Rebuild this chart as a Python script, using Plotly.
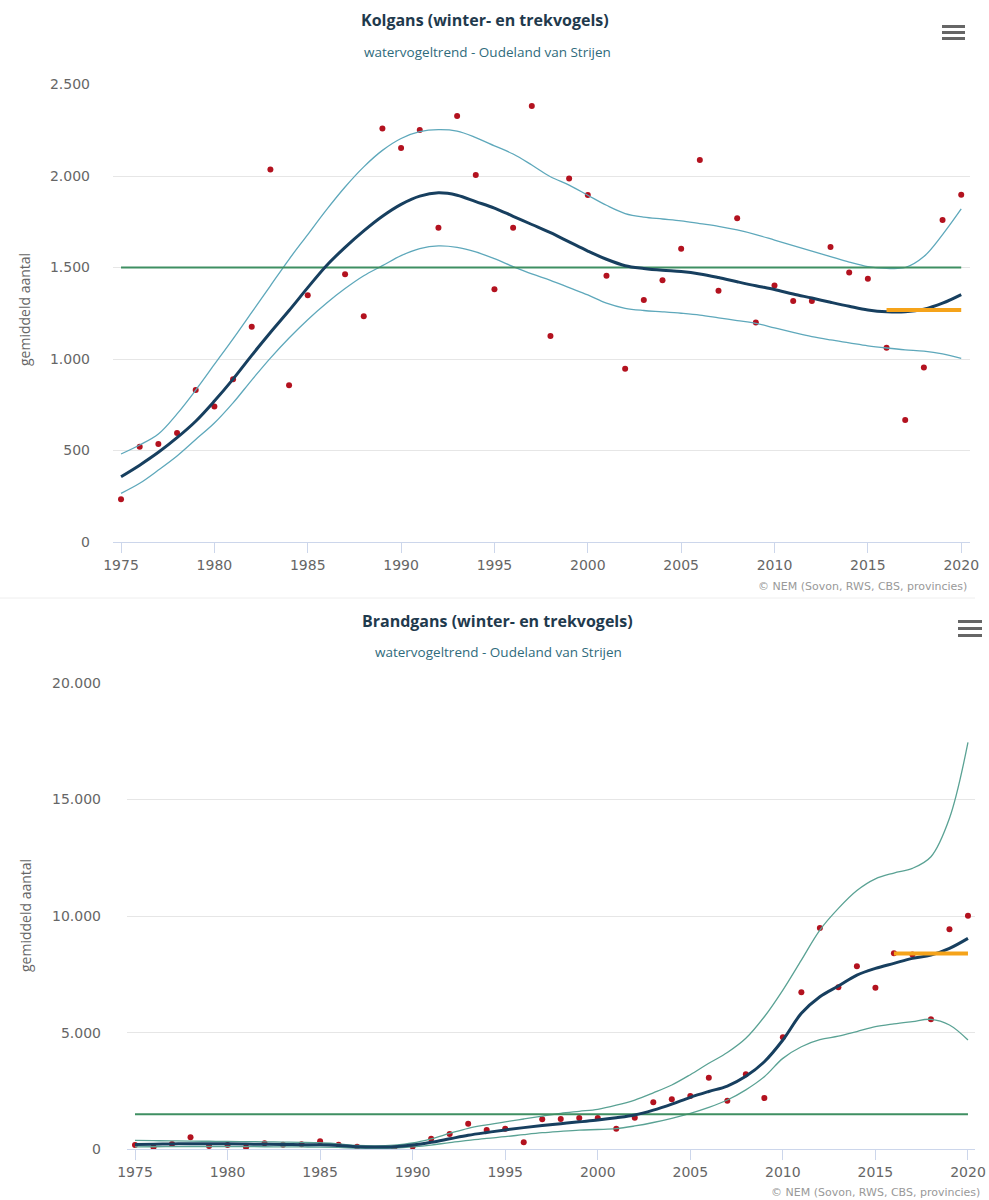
import plotly.graph_objects as go

W, H = 989, 1200

years = list(range(1975, 2021))

# ---------------- Kolgans ----------------
kol_counts = [233, 521, 535, 596, 830, 741, 890, 1176, 2036, 856,
              1348, None, 1463, 1233, 2260, 2153, 2251, 1717, 2328, 2005,
              1381, 1717, 2382, 1126, 1987, 1896, 1455, 947, 1322, 1430,
              1603, 2087, 1373, 1769, 1200, 1401, 1317, 1317, 1612, 1472,
              1439, 1062, 667, 954, 1759, 1898]
kol_trend = [357, 420, 490, 570, 660, 770, 890, 1020, 1145, 1265,
             1390, 1510, 1610, 1700, 1780, 1845, 1890, 1908, 1895, 1860,
             1825, 1780, 1735, 1690, 1640, 1590, 1545, 1510, 1495, 1485,
             1478, 1465, 1445, 1422, 1400, 1380, 1355, 1333, 1310, 1288,
             1268, 1258, 1258, 1272, 1305, 1352]
kol_upper = [481, 530, 590, 700, 830, 970, 1110, 1255, 1400, 1545,
             1680, 1815, 1940, 2050, 2140, 2205, 2242, 2253, 2245, 2210,
             2165, 2120, 2060, 1996, 1950, 1895, 1840, 1795, 1775, 1765,
             1755, 1740, 1725, 1705, 1680, 1650, 1620, 1590, 1560, 1530,
             1505, 1495, 1500, 1560, 1680, 1820]
kol_lower = [266, 321, 393, 470, 560, 650, 760, 885, 1005, 1115,
             1215, 1305, 1385, 1455, 1510, 1565, 1603, 1618, 1610, 1585,
             1548, 1505, 1465, 1430, 1390, 1350, 1305, 1277, 1265, 1258,
             1250, 1240, 1225, 1210, 1195, 1170, 1145, 1122, 1104, 1088,
             1072, 1060, 1050, 1043, 1028, 1004]
kol_ref_years = [1975, 2020]
kol_ref = [1500, 1500]
kol_recent_years = [2016, 2020]
kol_recent = [1268, 1268]

# ---------------- Brandgans ----------------
bra_counts = [184, 86, 230, 514, 141, 184, 86, 257, 200, 214,
              343, 190, 111, 15, 50, 120, 456, 656, 1098, 828,
              880, 300, 1290, 1299, 1342, 1342, 885, 1356, 2014, 2143,
              2286, 3071, 2085, 3215, 2200, 4802, 6732, 9489, 6946, 7847,
              6929, 8404, 8350, 5574, 9434, 10017]
bra_trend = [210, 220, 230, 240, 240, 235, 225, 215, 205, 200,
             190, 160, 110, 95, 110, 180, 300, 450, 600, 720,
             830, 930, 1020, 1100, 1180, 1256, 1350, 1470, 1680, 1940,
             2229, 2480, 2714, 3130, 3757, 4687, 5832, 6544, 7003, 7474,
             7761, 7976, 8190, 8332, 8619, 9048]
bra_upper = [380, 370, 360, 350, 345, 340, 330, 320, 310, 300,
             280, 230, 170, 150, 180, 270, 450, 680, 900, 1050,
             1180, 1300, 1420, 1543, 1630, 1715, 1890, 2114, 2420, 2757,
             3200, 3688, 4150, 4760, 5686, 6831, 8117, 9404, 10334, 11100,
             11600, 11850, 12050, 12550, 14200, 17450]
bra_lower = [100, 110, 115, 120, 120, 120, 115, 110, 105, 100,
             95, 80, 50, 40, 50, 100, 180, 290, 380, 470,
             540, 630, 712, 770, 820, 850, 885, 1000, 1150, 1330,
             1543, 1800, 2114, 2550, 3113, 3900, 4400, 4700, 4850, 5050,
             5257, 5380, 5480, 5574, 5330, 4687]
bra_ref_years = [1975, 2020]
bra_ref = [1500, 1500]
bra_recent_years = [2016, 2020]
bra_recent = [8400, 8400]

titles = ["Kolgans (winter- en trekvogels)", "Brandgans (winter- en trekvogels)"]
subtitle = "watervogeltrend - Oudeland van Strijen"
credit = "\u00a9 NEM (Sovon, RWS, CBS, provincies)"
ytitle = "gemiddeld aantal"

# ---------------- styles ----------------
C_PT = "#b3121f"
C_CI = "#5ea8bb"
C_CI2 = "#5aa294"
C_TR = "#173f5f"
C_REF = "#3f8f62"
C_OR = "#f5a31a"
TICKFONT = dict(family="DejaVu Sans", size=14, color="#666666")

fig = go.Figure()

def add_chart(xa, ya, counts, trend, upper, lower, ref_x, ref_y, rec_x, rec_y, ci_col):
    fig.add_trace(go.Scatter(x=years, y=counts, mode="markers",
                             marker=dict(color=C_PT, size=6), xaxis=xa, yaxis=ya,
                             showlegend=False))
    fig.add_trace(go.Scatter(x=years, y=upper, mode="lines", line=dict(color=ci_col, width=1.3, shape="spline"),
                             xaxis=xa, yaxis=ya, showlegend=False))
    fig.add_trace(go.Scatter(x=years, y=lower, mode="lines", line=dict(color=ci_col, width=1.3, shape="spline"),
                             xaxis=xa, yaxis=ya, showlegend=False))
    fig.add_trace(go.Scatter(x=ref_x, y=ref_y, mode="lines", line=dict(color=C_REF, width=2),
                             xaxis=xa, yaxis=ya, showlegend=False))
    fig.add_trace(go.Scatter(x=years, y=trend, mode="lines", line=dict(color=C_TR, width=3, shape="spline"),
                             xaxis=xa, yaxis=ya, showlegend=False))
    fig.add_trace(go.Scatter(x=rec_x, y=rec_y, mode="lines", line=dict(color=C_OR, width=4),
                             xaxis=xa, yaxis=ya, showlegend=False))

add_chart("x", "y", kol_counts, kol_trend, kol_upper, kol_lower,
          kol_ref_years, kol_ref, kol_recent_years, kol_recent, C_CI)
add_chart("x2", "y2", bra_counts, bra_trend, bra_upper, bra_lower,
          bra_ref_years, bra_ref, bra_recent_years, bra_recent, C_CI2)

def px(x):
    return x / W

def py(y):
    return 1 - y / H

xcommon = dict(tick0=1975, dtick=5, showgrid=False, zeroline=False, showline=True,
               linecolor="#ccd6eb", linewidth=1, ticks="outside", ticklen=10,
               tickcolor="#ccd6eb", tickfont=TICKFONT, automargin=False,
               ticklabeloverflow="allow")
ycommon = dict(showgrid=True, gridcolor="#e6e6e6", gridwidth=1, zeroline=False,
               showline=False, ticks="", tickfont=TICKFONT, tickformat=",d",
               automargin=False)

fig.update_layout(
    width=W, height=H, margin=dict(l=0, r=0, t=0, b=0, autoexpand=False),
    paper_bgcolor="white", plot_bgcolor="white",
    separators=",.",
    showlegend=False,
    xaxis=dict(domain=[px(113), px(970)], range=[1974.57, 2020.47], anchor="y", **xcommon),
    yaxis=dict(domain=[py(542), py(84.5)], range=[0, 2500], dtick=500, anchor="x",
               ticklabelstandoff=22, **ycommon),
    xaxis2=dict(domain=[px(127), px(975)], range=[1974.568, 2020.38], anchor="y2", **xcommon),
    yaxis2=dict(domain=[py(1149.3), py(683)], range=[0, 20000], dtick=5000, anchor="x2",
                ticklabelstandoff=25, **ycommon),
)

ann = []
TITLE_FONT = dict(family="Open Sans", size=16, color="#1f3a4d")
SUB_FONT = dict(family="Open Sans", size=13.5, color="#2f6b7c")
CRED_FONT = dict(family="DejaVu Sans", size=11, color="#999999")
YT_FONT = dict(family="Open Sans", size=14, color="#666666")

for (tx, ty, sy, cx, cy, yx, yy, t) in [
        (485, 20, 52, 969, 586, 25, 310, titles[0]),
        (497, 621, 652, 982, 1192, 25, 916, titles[1])]:
    ann.append(dict(text="<b>" + t + "</b>", x=px(tx), y=py(ty), xref="paper", yref="paper",
                    xanchor="center", yanchor="middle", showarrow=False, font=TITLE_FONT))
    ann.append(dict(text=subtitle, x=px(tx + 2), y=py(sy), xref="paper", yref="paper",
                    xanchor="center", yanchor="middle", showarrow=False, font=SUB_FONT))
    ann.append(dict(text=credit, x=px(cx), y=py(cy), xref="paper", yref="paper",
                    xanchor="right", yanchor="middle", showarrow=False, font=CRED_FONT))
    ann.append(dict(text=ytitle, x=px(yx), y=py(yy), xref="paper", yref="paper",
                    xanchor="center", yanchor="middle", textangle=-90, showarrow=False, font=YT_FONT))

shapes = []
# hamburger menu icons
for (x0, x1, ys) in [(942, 965, [25, 31, 37]), (958, 982, [620, 627, 634])]:
    for yb in ys:
        shapes.append(dict(type="rect", xref="paper", yref="paper",
                           x0=px(x0), x1=px(x1), y0=py(yb + 3), y1=py(yb),
                           fillcolor="#666666", line=dict(width=0)))
# faint separator between the two chart panels
shapes.append(dict(type="line", xref="paper", yref="paper", x0=0, x1=px(975),
                   y0=py(598), y1=py(598), line=dict(color="#eeeeee", width=1)))

fig.update_layout(annotations=ann, shapes=shapes)

fig.write_html("out.html", config={"displayModeBar": False},
               post_script="document.body.style.margin='0';document.body.style.overflow='hidden';")
